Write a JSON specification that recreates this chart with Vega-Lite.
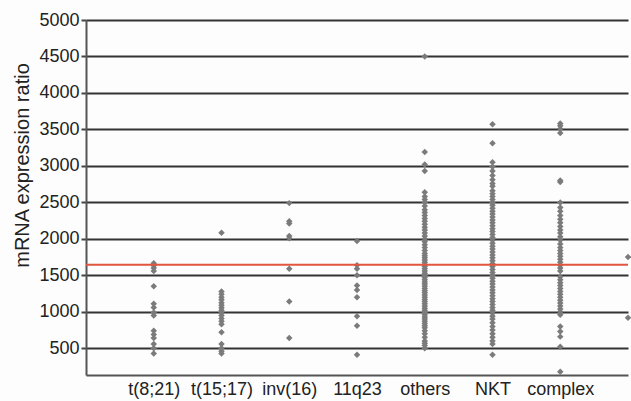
{
  "$schema": "https://vega.github.io/schema/vega-lite/v6.json",
  "width": 542,
  "height": 355,
  "autosize": "none",
  "padding": {"left": 86, "top": 20, "right": 3, "bottom": 26},
  "background": "#fdfdfd",
  "config": {
    "view": {"stroke": null},
    "font": "Liberation Sans, Arial, sans-serif"
  },
  "datasets": {
    "pts": [
      {"g": "t(8;21)", "v": 1665}, {"g": "t(8;21)", "v": 1635}, {"g": "t(8;21)", "v": 1600}, {"g": "t(8;21)", "v": 1560}, {"g": "t(8;21)", "v": 1350}, {"g": "t(8;21)", "v": 1110}, {"g": "t(8;21)", "v": 1060}, {"g": "t(8;21)", "v": 990}, {"g": "t(8;21)", "v": 950}, {"g": "t(8;21)", "v": 740}, {"g": "t(8;21)", "v": 690}, {"g": "t(8;21)", "v": 640}, {"g": "t(8;21)", "v": 560}, {"g": "t(8;21)", "v": 500}, {"g": "t(8;21)", "v": 430},
      {"g": "t(15;17)", "v": 2085}, {"g": "t(15;17)", "v": 1280}, {"g": "t(15;17)", "v": 1240}, {"g": "t(15;17)", "v": 1200}, {"g": "t(15;17)", "v": 1165}, {"g": "t(15;17)", "v": 1125}, {"g": "t(15;17)", "v": 1090}, {"g": "t(15;17)", "v": 1055}, {"g": "t(15;17)", "v": 1020}, {"g": "t(15;17)", "v": 985}, {"g": "t(15;17)", "v": 950}, {"g": "t(15;17)", "v": 910}, {"g": "t(15;17)", "v": 870}, {"g": "t(15;17)", "v": 830}, {"g": "t(15;17)", "v": 720}, {"g": "t(15;17)", "v": 560}, {"g": "t(15;17)", "v": 500}, {"g": "t(15;17)", "v": 460}, {"g": "t(15;17)", "v": 430},
      {"g": "inv(16)", "v": 2490}, {"g": "inv(16)", "v": 2240}, {"g": "inv(16)", "v": 2210}, {"g": "inv(16)", "v": 2040}, {"g": "inv(16)", "v": 2010}, {"g": "inv(16)", "v": 1590}, {"g": "inv(16)", "v": 1140}, {"g": "inv(16)", "v": 640},
      {"g": "11q23", "v": 1970}, {"g": "11q23", "v": 1640}, {"g": "11q23", "v": 1590}, {"g": "11q23", "v": 1500}, {"g": "11q23", "v": 1360}, {"g": "11q23", "v": 1300}, {"g": "11q23", "v": 1200}, {"g": "11q23", "v": 940}, {"g": "11q23", "v": 810}, {"g": "11q23", "v": 410},
      {"g": "others", "v": 4500}, {"g": "others", "v": 3190}, {"g": "others", "v": 3020}, {"g": "others", "v": 2930}, {"g": "others", "v": 2640}, {"g": "others", "v": 2580}, {"g": "others", "v": 2540}, {"g": "others", "v": 2500}, {"g": "others", "v": 2450}, {"g": "others", "v": 2400}, {"g": "others", "v": 2360}, {"g": "others", "v": 2320}, {"g": "others", "v": 2280}, {"g": "others", "v": 2240}, {"g": "others", "v": 2200}, {"g": "others", "v": 2160}, {"g": "others", "v": 2120}, {"g": "others", "v": 2080}, {"g": "others", "v": 2040}, {"g": "others", "v": 2000}, {"g": "others", "v": 1960}, {"g": "others", "v": 1920}, {"g": "others", "v": 1880}, {"g": "others", "v": 1840}, {"g": "others", "v": 1800}, {"g": "others", "v": 1770}, {"g": "others", "v": 1740}, {"g": "others", "v": 1710}, {"g": "others", "v": 1680}, {"g": "others", "v": 1650}, {"g": "others", "v": 1620}, {"g": "others", "v": 1590}, {"g": "others", "v": 1560}, {"g": "others", "v": 1530}, {"g": "others", "v": 1500}, {"g": "others", "v": 1470}, {"g": "others", "v": 1440}, {"g": "others", "v": 1410}, {"g": "others", "v": 1380}, {"g": "others", "v": 1350}, {"g": "others", "v": 1320}, {"g": "others", "v": 1290}, {"g": "others", "v": 1260}, {"g": "others", "v": 1230}, {"g": "others", "v": 1200}, {"g": "others", "v": 1170}, {"g": "others", "v": 1140}, {"g": "others", "v": 1110}, {"g": "others", "v": 1080}, {"g": "others", "v": 1050}, {"g": "others", "v": 1020}, {"g": "others", "v": 990}, {"g": "others", "v": 960}, {"g": "others", "v": 930}, {"g": "others", "v": 900}, {"g": "others", "v": 870}, {"g": "others", "v": 840}, {"g": "others", "v": 810}, {"g": "others", "v": 780}, {"g": "others", "v": 740}, {"g": "others", "v": 700}, {"g": "others", "v": 650}, {"g": "others", "v": 600}, {"g": "others", "v": 570}, {"g": "others", "v": 540}, {"g": "others", "v": 500},
      {"g": "NKT", "v": 3570}, {"g": "NKT", "v": 3310}, {"g": "NKT", "v": 3050}, {"g": "NKT", "v": 2990}, {"g": "NKT", "v": 2930}, {"g": "NKT", "v": 2870}, {"g": "NKT", "v": 2810}, {"g": "NKT", "v": 2760}, {"g": "NKT", "v": 2720}, {"g": "NKT", "v": 2660}, {"g": "NKT", "v": 2620}, {"g": "NKT", "v": 2580}, {"g": "NKT", "v": 2540}, {"g": "NKT", "v": 2500}, {"g": "NKT", "v": 2460}, {"g": "NKT", "v": 2420}, {"g": "NKT", "v": 2380}, {"g": "NKT", "v": 2340}, {"g": "NKT", "v": 2300}, {"g": "NKT", "v": 2260}, {"g": "NKT", "v": 2220}, {"g": "NKT", "v": 2180}, {"g": "NKT", "v": 2140}, {"g": "NKT", "v": 2100}, {"g": "NKT", "v": 2060}, {"g": "NKT", "v": 2020}, {"g": "NKT", "v": 1980}, {"g": "NKT", "v": 1940}, {"g": "NKT", "v": 1900}, {"g": "NKT", "v": 1860}, {"g": "NKT", "v": 1820}, {"g": "NKT", "v": 1780}, {"g": "NKT", "v": 1740}, {"g": "NKT", "v": 1700}, {"g": "NKT", "v": 1660}, {"g": "NKT", "v": 1620}, {"g": "NKT", "v": 1580}, {"g": "NKT", "v": 1540}, {"g": "NKT", "v": 1500}, {"g": "NKT", "v": 1460}, {"g": "NKT", "v": 1420}, {"g": "NKT", "v": 1380}, {"g": "NKT", "v": 1340}, {"g": "NKT", "v": 1300}, {"g": "NKT", "v": 1260}, {"g": "NKT", "v": 1220}, {"g": "NKT", "v": 1180}, {"g": "NKT", "v": 1140}, {"g": "NKT", "v": 1100}, {"g": "NKT", "v": 1060}, {"g": "NKT", "v": 1020}, {"g": "NKT", "v": 980}, {"g": "NKT", "v": 940}, {"g": "NKT", "v": 900}, {"g": "NKT", "v": 850}, {"g": "NKT", "v": 800}, {"g": "NKT", "v": 750}, {"g": "NKT", "v": 700}, {"g": "NKT", "v": 650}, {"g": "NKT", "v": 600}, {"g": "NKT", "v": 560}, {"g": "NKT", "v": 410},
      {"g": "complex", "v": 3580}, {"g": "complex", "v": 3550}, {"g": "complex", "v": 3510}, {"g": "complex", "v": 3450}, {"g": "complex", "v": 2800}, {"g": "complex", "v": 2780}, {"g": "complex", "v": 2500}, {"g": "complex", "v": 2430}, {"g": "complex", "v": 2380}, {"g": "complex", "v": 2320}, {"g": "complex", "v": 2270}, {"g": "complex", "v": 2220}, {"g": "complex", "v": 2170}, {"g": "complex", "v": 2120}, {"g": "complex", "v": 2080}, {"g": "complex", "v": 2030}, {"g": "complex", "v": 1980}, {"g": "complex", "v": 1930}, {"g": "complex", "v": 1880}, {"g": "complex", "v": 1840}, {"g": "complex", "v": 1800}, {"g": "complex", "v": 1760}, {"g": "complex", "v": 1720}, {"g": "complex", "v": 1680}, {"g": "complex", "v": 1640}, {"g": "complex", "v": 1600}, {"g": "complex", "v": 1560}, {"g": "complex", "v": 1480}, {"g": "complex", "v": 1440}, {"g": "complex", "v": 1400}, {"g": "complex", "v": 1360}, {"g": "complex", "v": 1320}, {"g": "complex", "v": 1280}, {"g": "complex", "v": 1240}, {"g": "complex", "v": 1200}, {"g": "complex", "v": 1160}, {"g": "complex", "v": 1120}, {"g": "complex", "v": 1080}, {"g": "complex", "v": 1040}, {"g": "complex", "v": 1000}, {"g": "complex", "v": 960}, {"g": "complex", "v": 800}, {"g": "complex", "v": 730}, {"g": "complex", "v": 660}, {"g": "complex", "v": 520}, {"g": "complex", "v": 180},
      {"g": "extra", "v": 1750}, {"g": "extra", "v": 920}
    ],
    "cut": [{"threshold": 1645}]
  },
  "layer": [
    {
      "data": {"name": "pts"},
      "mark": {"type": "point", "shape": "diamond", "filled": true, "size": 42, "color": "#7b7b7b", "opacity": 1},
      "encoding": {
        "x": {
          "field": "g", "type": "nominal",
          "scale": {"type": "point", "padding": 0, "domain": [" ", "t(8;21)", "t(15;17)", "inv(16)", "11q23", "others", "NKT", "complex", "extra"]},
          "axis": {
            "title": null, "ticks": false, "grid": false, "labelOverlap": false, "labelBound": false,
            "labelAngle": 0, "labelFontSize": 18, "labelColor": "#222222", "labelPadding": 5,
            "labelExpr": "datum.value == 'extra' ? '' : datum.value",
            "domainColor": "#555555", "domainWidth": 2
          }
        },
        "y": {
          "field": "v", "type": "quantitative",
          "scale": {"domain": [134, 5000], "nice": false, "zero": false},
          "axis": {
            "title": "mRNA expression ratio", "titleFontSize": 20, "titleFontWeight": "normal", "titleColor": "#222222", "titlePadding": 6, "titleY": 145,
            "values": [500, 1000, 1500, 2000, 2500, 3000, 3500, 4000, 4500, 5000], "tickCount": 20,
            "format": "d", "labelOverlap": false, "labelBound": false,
            "labelFontSize": 18, "labelColor": "#222222", "labelPadding": 2,
            "tickSize": 5, "tickColor": "#444444", "tickWidth": 2,
            "domainColor": "#555555", "domainWidth": 2,
            "grid": true, "gridColor": "#333333", "gridWidth": 2
          }
        }
      }
    },
    {
      "data": {"name": "cut"},
      "mark": {"type": "rule", "color": "#e2563f", "strokeWidth": 2},
      "encoding": {"y": {"field": "threshold", "type": "quantitative"}}
    }
  ]
}
